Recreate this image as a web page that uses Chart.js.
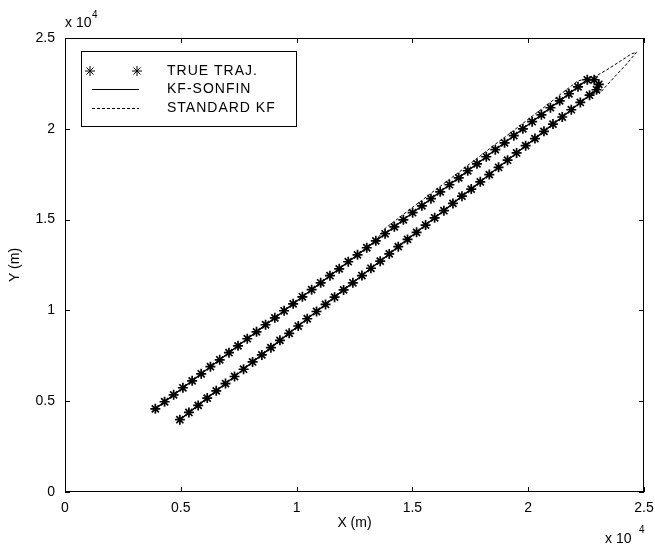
<!DOCTYPE html>
<html>
<head>
<meta charset="utf-8">
<script src="https://cdn.jsdelivr.net/npm/chart.js@4.4.1/dist/chart.umd.min.js"></script>
<style>
  html, body { margin: 0; padding: 0; background: #fff; }
</style>
</head>
<body>
<canvas id="trajChart" width="655" height="545"></canvas>
<script>
// True trajectory, outbound leg (lower track), metres
const outX = [4960, 5350, 5750, 6140, 6530, 6930, 7320, 7710, 8100, 8500, 8890, 9280, 9680, 10070, 10460, 10860, 11250, 11640, 12030, 12430, 12820, 13210, 13610, 14000, 14390, 14790, 15180, 15570, 15960, 16360, 16750, 17140, 17540, 17930, 18320, 18720, 19110, 19500, 19890, 20290, 20680, 21070, 21470, 21860, 22250, 22650];
const outY = [3980, 4380, 4770, 5170, 5570, 5970, 6360, 6760, 7160, 7550, 7950, 8350, 8740, 9140, 9540, 9940, 10330, 10730, 11130, 11520, 11920, 12320, 12710, 13110, 13510, 13910, 14300, 14700, 15100, 15490, 15890, 16290, 16680, 17080, 17480, 17880, 18270, 18670, 19070, 19460, 19860, 20260, 20650, 21050, 21450, 21850];

// Turn at the top right
const turnX = [22950, 23050, 22850];
const turnY = [22150, 22450, 22700];

// Return leg (upper track)
const backX = [22550, 22150, 21760, 21360, 20960, 20570, 20170, 19770, 19380, 18980, 18580, 18190, 17790, 17390, 17000, 16600, 16200, 15800, 15410, 15010, 14610, 14220, 13820, 13420, 13030, 12630, 12230, 11840, 11440, 11040, 10650, 10250, 9850, 9460, 9060, 8660, 8270, 7870, 7470, 7080, 6680, 6280, 5880, 5490, 5090, 4690, 4300, 3900];
const backY = [22700, 22310, 21930, 21540, 21160, 20770, 20390, 20000, 19620, 19230, 18850, 18460, 18070, 17690, 17300, 16920, 16530, 16150, 15760, 15380, 14990, 14600, 14220, 13830, 13450, 13060, 12680, 12290, 11910, 11520, 11140, 10750, 10360, 9980, 9590, 9210, 8820, 8440, 8050, 7670, 7280, 6900, 6510, 6120, 5740, 5350, 4970, 4580];

// Standard KF: overshoot loop past the turn
const kfTurnX = [23150, 23650, 24200, 24680, 24450, 23950, 23400, 22850];
const kfTurnY = [22050, 22750, 23500, 24220, 24120, 23700, 23250, 22850];

// Standard KF: return leg, a little above the true track until ~1.34e4
const kfBackX = [22150, 21760, 21360, 20960, 20570, 20170, 19770, 19380, 18980, 18580, 18190, 17790, 17390, 17000, 16600, 16200, 15800, 15410, 15010, 14610, 14220, 13820];
const kfBackY = [22640, 22260, 21870, 21460, 21070, 20690, 20300, 19920, 19530, 19150, 18760, 18370, 17990, 17600, 17220, 16830, 16450, 16060, 15680, 15290, 14900, 14520];

const axisTicks = [0, 5000, 10000, 15000, 20000, 25000];

const FONT = "'Liberation Sans', Arial, sans-serif";

function toPoints(xs, ys) {
  return xs.map((x, i) => ({ x: x, y: ys[i] }));
}

const truePts = toPoints(outX.concat(turnX, backX), outY.concat(turnY, backY));
const kfPts = toPoints(
  outX.concat(kfTurnX, kfBackX, backX.slice(23)),
  outY.concat(kfTurnY, kfBackY, backY.slice(23))
);

// Box around the axes, inward ticks on all four sides, legend, and the x 10^4 notes
const matlabFrame = {
  id: "matlabFrame",
  afterDatasetsDraw(chart) {
    const { ctx, chartArea: a, scales } = chart;
    ctx.save();
    ctx.strokeStyle = "#000";
    ctx.lineWidth = 1;
    ctx.setLineDash([]);
    ctx.strokeRect(a.left + 0.5, a.top + 0.5, a.right - a.left - 1, a.bottom - a.top - 1);

    const tl = 5;
    ctx.beginPath();
    axisTicks.forEach((v) => {
      const px = Math.round(scales.x.getPixelForValue(v)) + 0.5;
      ctx.moveTo(px, a.bottom);
      ctx.lineTo(px, a.bottom - tl);
      ctx.moveTo(px, a.top);
      ctx.lineTo(px, a.top + tl);
      const py = Math.round(scales.y.getPixelForValue(v)) + 0.5;
      ctx.moveTo(a.left, py);
      ctx.lineTo(a.left + tl, py);
      ctx.moveTo(a.right, py);
      ctx.lineTo(a.right - tl, py);
    });
    ctx.stroke();

    // legend
    const lx = 81, ly = 51, lw = 215, lh = 75;
    ctx.fillStyle = "#fff";
    ctx.fillRect(lx, ly, lw, lh);
    ctx.strokeRect(lx + 0.5, ly + 0.5, lw, lh);

    const rows = [71, 89, 108];
    const ds = chart.data.datasets;
    ctx.font = "14px " + FONT;
    ctx.letterSpacing = "1px";
    ctx.fillStyle = "#000";
    ctx.textBaseline = "middle";
    ds.forEach((d, i) => {
      const y = rows[i];
      if (d.showLine === false) {
        [90, 137].forEach((sx) => {
          Chart.helpers.drawPoint(ctx, { pointStyle: "star", radius: 5, borderWidth: 1.7 }, sx, y);
        });
      } else {
        ctx.save();
        ctx.lineWidth = 1;
        ctx.setLineDash(d.borderDash || []);
        ctx.beginPath();
        ctx.moveTo(92, y + 0.5);
        ctx.lineTo(139, y + 0.5);
        ctx.stroke();
        ctx.restore();
      }
      ctx.fillText(d.label, 167, y);
    });

    // exponent notes
    ctx.letterSpacing = "0px";
    ctx.textBaseline = "alphabetic";
    ctx.font = "14px " + FONT;
    ctx.fillText("x 10", 65, 27);
    ctx.fillText("x 10", 605, 543);
    ctx.font = "10px " + FONT;
    ctx.fillText("4", 92, 18);
    ctx.fillText("4", 639, 533);
    ctx.restore();
  },
};

const tickFont = { family: FONT, size: 14 };

new Chart(document.getElementById("trajChart"), {
  type: "scatter",
  data: {
    datasets: [
      {
        label: "TRUE TRAJ.",
        data: truePts,
        showLine: false,
        pointStyle: "star",
        pointRadius: 5,
        pointBorderWidth: 1.7,
        pointBorderColor: "#000",
        pointBackgroundColor: "#000",
      },
      {
        label: "KF-SONFIN",
        data: truePts,
        showLine: true,
        borderColor: "#000",
        borderWidth: 1.4,
        pointRadius: 0,
        tension: 0,
      },
      {
        label: "STANDARD KF",
        data: kfPts,
        showLine: true,
        borderColor: "#000",
        borderWidth: 1,
        borderDash: [3, 2],
        pointRadius: 0,
        tension: 0,
      },
    ],
  },
  options: {
    responsive: false,
    animation: false,
    layout: { padding: { top: 38, right: 11, left: 0, bottom: 0 } },
    plugins: {
      legend: { display: false },
      tooltip: { enabled: false },
    },
    scales: {
      x: {
        type: "linear",
        min: 0,
        max: 25000,
        afterBuildTicks: (s) => { s.ticks = axisTicks.map((v) => ({ value: v })); },
        ticks: {
          callback: (v) => String(v / 10000),
          color: "#000",
          font: tickFont,
          padding: 0,
          maxRotation: 0,
        },
        grid: { display: false },
        border: { display: false },
        title: { display: true, text: "X (m)", color: "#000", font: tickFont, padding: { top: 2, bottom: 13 } },
        afterFit: (s) => { s.height = 53; },
      },
      y: {
        type: "linear",
        min: 0,
        max: 25000,
        afterBuildTicks: (s) => { s.ticks = axisTicks.map((v) => ({ value: v })); },
        ticks: {
          callback: (v) => String(v / 10000),
          color: "#000",
          font: tickFont,
          padding: 2,
        },
        grid: { display: false },
        border: { display: false },
        title: { display: true, text: "Y (m)", color: "#000", font: tickFont, padding: { top: 7, bottom: 0 } },
        afterFit: (s) => { s.width = 65; },
      },
    },
  },
  plugins: [matlabFrame],
});
</script>
</body>
</html>
